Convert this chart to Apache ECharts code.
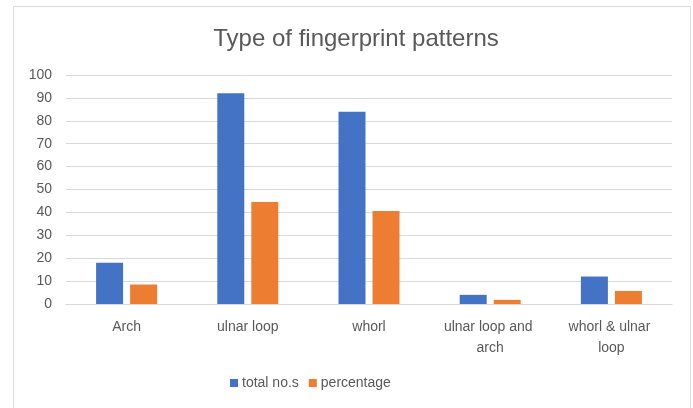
<!DOCTYPE html>
<html>
<head>
<meta charset="utf-8">
<script src="https://cdn.jsdelivr.net/npm/echarts@6/dist/echarts.min.js"></script>
<style>
  html, body { margin: 0; padding: 0; background: #fff; }
  #chart { width: 693px; height: 408px; }
</style>
</head>
<body>
<div id="chart"></div>
<script>
var categories = ['Arch', 'ulnar loop', 'whorl', 'ulnar loop and arch', 'whorl & ulnar loop'];
var totalNos = [18, 92, 84, 4, 12];
var percentage = [8.5, 44.5, 40.6, 1.8, 5.7];
var seriesNames = ['total no.s', 'percentage'];

var myChart = echarts.init(document.getElementById('chart'));
var font = '"Liberation Sans", sans-serif';

var option = {
    backgroundColor: '#fff',
    animation: false,
    color: ['#4472C4', '#ED7D31'],
    graphic: [{
        type: 'rect',
        shape: { x: 13.5, y: 6.5, width: 677, height: 420 },
        style: { fill: 'none', stroke: '#d9d9d9', lineWidth: 1 },
        silent: true
    }],
    title: {
        text: 'Type of fingerprint patterns',
        left: 351,
        top: 22,
        textAlign: 'center',
        textStyle: { color: '#595959', fontSize: 24, fontWeight: 'normal', fontFamily: font }
    },
    legend: {
        data: seriesNames,
        bottom: 13,
        left: 225,
        itemWidth: 8,
        itemHeight: 8,
        itemGap: 10,
        icon: 'rect',
        textStyle: { color: '#595959', fontSize: 14, fontFamily: font, padding: [0, 0, 0, -1] }
    },
    grid: { left: 66, right: 21, top: 75, bottom: 104, containLabel: false },
    xAxis: {
        type: 'category',
        data: categories,
        axisTick: { show: false },
        axisLine: { lineStyle: { color: '#d9d9d9', width: 1 } },
        axisLabel: {
            color: '#595959', fontSize: 14, fontFamily: font, margin: 13,
            interval: 0, width: 108, overflow: 'break', lineHeight: 21
        }
    },
    yAxis: {
        type: 'value',
        min: 0,
        max: 100,
        interval: 10,
        axisLine: { show: false },
        axisTick: { show: false },
        axisLabel: { color: '#595959', fontSize: 14, fontFamily: font, margin: 14 },
        splitLine: { lineStyle: { color: '#d9d9d9', width: 1 } }
    },
    series: [
        {
            name: seriesNames[0],
            type: 'bar',
            data: totalNos,
            barWidth: 27,
            barGap: '26%'
        },
        {
            name: seriesNames[1],
            type: 'bar',
            data: percentage,
            barWidth: 27
        }
    ]
};

myChart.setOption(option);
</script>
</body>
</html>
